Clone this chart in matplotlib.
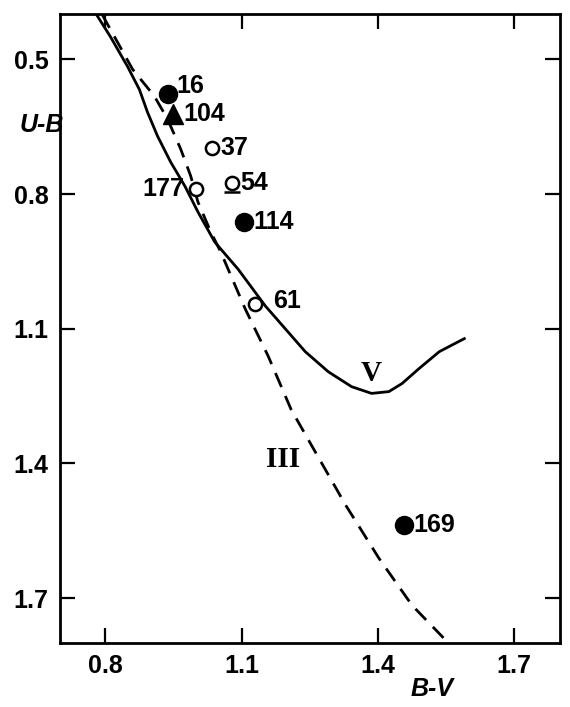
import matplotlib
matplotlib.use("Agg")
import matplotlib.pyplot as plt
import matplotlib.transforms as mtransforms
from matplotlib import font_manager

names = {f.name for f in font_manager.fontManager.ttflist}
narrow = "Liberation Sans Narrow" if "Liberation Sans Narrow" in names else "Liberation Sans"
plt.rcParams['font.family'] = [narrow, 'DejaVu Sans']

# Luminosity class V (solid) sequence
v_bv = [0.778, 0.811, 0.849, 0.875, 0.893, 0.915, 0.944, 0.975, 1.004, 1.041,
        1.092, 1.152, 1.196, 1.240, 1.291, 1.342, 1.386, 1.424, 1.453, 1.490,
        1.535, 1.590]
v_ub = [0.396, 0.449, 0.516, 0.567, 0.618, 0.671, 0.729, 0.782, 0.840, 0.907,
        0.967, 1.049, 1.100, 1.151, 1.196, 1.229, 1.244, 1.240, 1.222, 1.189,
        1.151, 1.122]

# Luminosity class III (dashed) sequence
iii_bv = [0.793, 0.860, 0.908, 0.937, 0.966, 0.988, 1.004, 1.032, 1.054, 1.108,
          1.158, 1.209, 1.254, 1.329, 1.402, 1.475, 1.555]
iii_ub = [0.400, 0.522, 0.582, 0.633, 0.700, 0.760, 0.818, 0.884, 0.929, 1.056,
          1.160, 1.280, 1.360, 1.493, 1.611, 1.716, 1.800]

# Stars
filled_names = ["16", "114", "169"]
filled_bv = [0.937, 1.105, 1.457]
filled_ub = [0.578, 0.862, 1.538]

tri_names = ["104"]
tri_bv = [0.948]
tri_ub = [0.622]

open_names = ["37", "54", "177", "61"]
open_bv = [1.035, 1.079, 0.999, 1.130]
open_ub = [0.698, 0.776, 0.789, 1.044]
underlined = ["54"]

xticks = [0.8, 1.1, 1.4, 1.7]
yticks = [0.5, 0.8, 1.1, 1.4, 1.7]

fig = plt.figure(figsize=(5.70, 7.07), dpi=100)
ax = fig.add_axes([0.105, 0.0905, 0.877, 0.889])

ax.plot(v_bv, v_ub, color='black', lw=2.0, solid_joinstyle='round')
ax.plot(iii_bv, iii_ub, color='black', lw=2.0, linestyle=(0, (5.5, 3.5)))

ax.plot(filled_bv, filled_ub, 'o', color='black', ms=13, zorder=5)
ax.plot(tri_bv, tri_ub, '^', color='black', ms=14, zorder=5)
ax.plot(open_bv, open_ub, 'o', mfc='white', mec='black', mew=1.8, ms=9.5, zorder=5)

lab_kw = dict(fontsize=18, fontweight='bold', color='black', va='center', zorder=6)
offsets = {"16": (6, 6), "114": (7, 0), "169": (7, 0), "104": (8, 0),
           "37": (6, 0), "54": (6, 0), "61": (13, 2)}
for nm, x, y in zip(filled_names + tri_names + open_names,
                    filled_bv + tri_bv + open_bv,
                    filled_ub + tri_ub + open_ub):
    if nm == "177":
        ax.annotate(nm, (x, y), xytext=(-8, 0), textcoords='offset points',
                    ha='right', **lab_kw)
    else:
        ax.annotate(nm, (x, y), xytext=offsets[nm], textcoords='offset points',
                    ha='left', **lab_kw)

for nm, x, y in zip(open_names, open_bv, open_ub):
    if nm in underlined:
        tr = mtransforms.offset_copy(ax.transData, fig=fig, x=0, y=-6, units='points')
        ax.plot([x], [y], marker='_', ms=12, mew=1.8, color='black', transform=tr)

ax.text(1.386, 1.200, "V", fontsize=21, fontweight='bold', family='Liberation Serif',
        ha='center', va='center')
ax.text(1.192, 1.392, "III", fontsize=21, fontweight='bold', family='Liberation Serif',
        ha='center', va='center')

ax.set_xlim(0.7, 1.8)
ax.set_ylim(1.8, 0.4)
ax.set_xticks(xticks)
ax.set_yticks(yticks)
ax.set_xticklabels([f"{t:.1f}" for t in xticks], fontsize=18, fontweight='bold')
ax.set_yticklabels([f"{t:.1f}" for t in yticks], fontsize=18, fontweight='bold')
ax.tick_params(direction='in', length=11, width=1.6, top=True, right=True, pad=8)
for s in ax.spines.values():
    s.set_linewidth(2.0)

fig.text(0.035, 0.823, "U-B", fontsize=18, fontweight='bold', style='italic',
         ha='left', va='center')
fig.text(0.72, 0.025, "B-V", fontsize=18, fontweight='bold', style='italic',
         ha='left', va='center')

fig.savefig("out.png", dpi=100, facecolor='white')
